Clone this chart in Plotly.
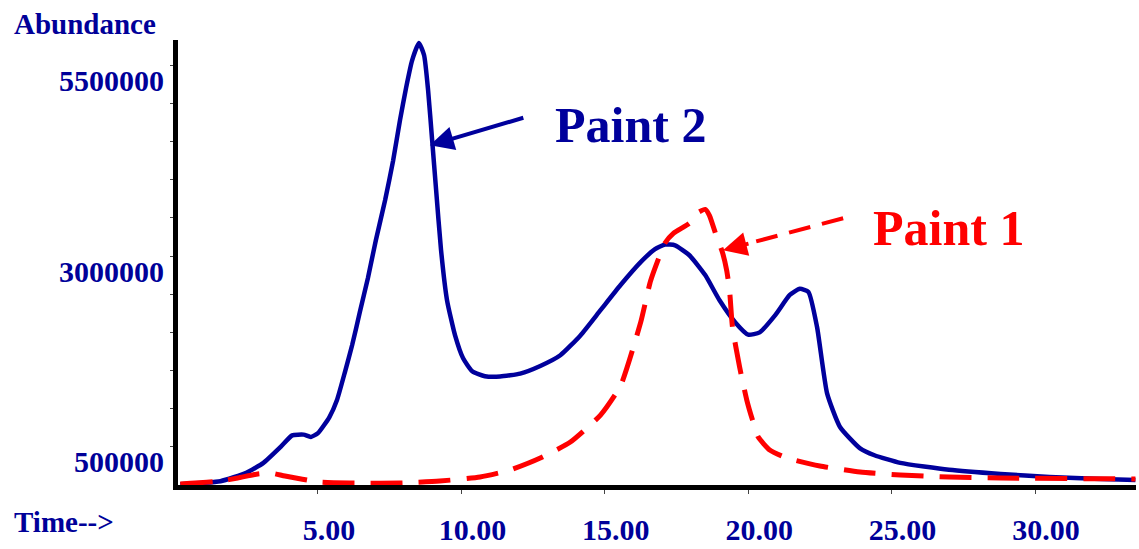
import plotly.graph_objects as go

# Retention time (min) and abundance for the two paint samples
time_paint2 = [0.2, 1.6, 2.5, 3.1, 3.7, 4.1, 4.5, 4.75, 5.0, 5.4, 5.66, 5.94, 6.19,
               6.46, 6.74, 7.02, 7.34, 7.62, 7.86, 8.07, 8.28, 8.52, 8.7, 8.84, 8.98,
               9.12, 9.29, 9.5, 9.78, 10.06, 10.38, 10.82, 11.35, 12.05, 12.75, 13.45,
               14.15, 14.85, 15.55, 16.25, 16.75, 17.1, 17.45, 17.95, 18.5, 19.0, 19.55,
               20.0, 20.4, 20.95, 21.45, 21.8, 22.1, 22.4, 22.75, 23.2, 23.9, 24.4, 25.3,
               27.0, 28.8, 30.5, 32.3, 33.5]
abund_paint2 = [10000, 50000, 160000, 290000, 500000, 650000, 660000, 630000, 680000,
                890000, 1110000, 1480000, 1830000, 2265000, 2710000, 3210000, 3730000,
                4250000, 4780000, 5200000, 5560000, 5790000, 5630000, 5170000, 4520000,
                3860000, 3080000, 2420000, 1960000, 1660000, 1490000, 1425000, 1420000,
                1460000, 1560000, 1700000, 1960000, 2290000, 2620000, 2920000, 3090000,
                3150000, 3140000, 3010000, 2750000, 2420000, 2130000, 1970000, 2000000,
                2230000, 2490000, 2570000, 2530000, 2070000, 1200000, 760000, 480000,
                390000, 290000, 200000, 145000, 105000, 80000, 65000]

time_paint1 = [0.2, 1.6, 2.2, 2.9, 3.35, 3.85, 5.05, 6.1, 7.85, 9.25, 10.65, 11.7,
               12.75, 13.8, 14.85, 15.55, 16.25, 16.6, 17.1, 17.4, 17.95, 18.25, 18.5,
               18.65, 18.9, 19.1, 19.25, 19.35, 19.45, 19.7, 19.95, 20.15, 20.35, 20.75,
               21.35, 22.5, 23.9, 25.3, 27.0, 28.8, 33.5]
abund_paint1 = [13000, 52000, 92000, 144000, 157000, 118000, 39000, 26000, 26000, 52000,
                105000, 196000, 353000, 563000, 916000, 1300000, 2130000, 2680000,
                3170000, 3300000, 3430000, 3570000, 3610000, 3530000, 3250000, 3050000,
                2810000, 2550000, 2070000, 1545000, 1113000, 851000, 628000, 458000,
                353000, 249000, 170000, 131000, 105000, 92000, 79000]

x_tick_vals = [5, 10, 15, 20, 25, 30]
x_tick_text = ["5.00", "10.00", "15.00", "20.00", "25.00", "30.00"]
y_tick_vals = [500000 * k for k in range(1, 12)]
y_tick_text = ["500000", "", "", "", "", "3000000", "", "", "", "", "5500000"]

BLUE = "#00009C"
RED = "#FF0000"
LABEL_BLUE = "#000099"
SERIF = "Liberation Serif"

fig = go.Figure()
fig.add_trace(go.Scatter(x=time_paint2, y=abund_paint2, mode="lines",
                         line=dict(color=BLUE, width=4.5, shape="spline", smoothing=0.5),
                         name="Paint 2"))
fig.add_trace(go.Scatter(x=time_paint1, y=abund_paint1, mode="lines",
                         line=dict(color=RED, width=5, dash="32px,16px",
                                   shape="spline", smoothing=0.5),
                         name="Paint 1"))

# Callout labels with arrows
fig.add_annotation(x=8.9, y=4450000, ax=95, ay=-28, text="", showarrow=True,
                   arrowhead=2, arrowsize=1.2, arrowwidth=4, arrowcolor=BLUE)
fig.add_annotation(x=15.88, y=4712000, text="Paint 2", showarrow=False,
                   font=dict(family=SERIF, size=50, color=BLUE, weight="bold"))

fig.add_shape(type="line", x0=23.31, y0=3495000, x1=20.05, y1=3168000,
              line=dict(color=RED, width=4, dash="22px,12px"))
fig.add_annotation(x=19.12, y=3076000, ax=27, ay=-7, text="", showarrow=True,
                   arrowhead=2, arrowsize=1.2, arrowwidth=4, arrowcolor=RED)
fig.add_annotation(x=26.97, y=3364000, text="Paint 1", showarrow=False,
                   font=dict(family=SERIF, size=50, color=RED, weight="bold"))

# Axis titles
fig.add_annotation(xref="paper", yref="paper", x=-0.1733, y=1.036, xanchor="left",
                   yanchor="middle", text="Abundance", showarrow=False,
                   font=dict(family=SERIF, size=29, color=LABEL_BLUE, weight="bold"))
fig.add_annotation(xref="paper", yref="paper", x=-0.1733, y=-0.083, xanchor="left",
                   yanchor="middle", text="Time-->", showarrow=False,
                   font=dict(family=SERIF, size=29, color=LABEL_BLUE, weight="bold"))

fig.update_layout(
    width=1139, height=549,
    margin=dict(l=178, r=3, t=40, b=64),
    paper_bgcolor="white", plot_bgcolor="white",
    showlegend=False,
    xaxis=dict(range=[0.12, 33.52], showgrid=False, zeroline=False, automargin=False,
               showline=True, linecolor="black", linewidth=5,
               ticks="outside", ticklen=4, tickwidth=1, tickcolor="#444",
               tickvals=x_tick_vals, ticktext=x_tick_text,
               ticklabelshift=11, ticklabelstandoff=10,
               tickfont=dict(family=SERIF, size=30, color=LABEL_BLUE, weight="bold")),
    yaxis=dict(range=[0, 5830000], showgrid=False, zeroline=False, automargin=False,
               showline=True, linecolor="black", linewidth=5,
               ticks="outside", ticklen=3, tickwidth=1, tickcolor="#444",
               tickvals=y_tick_vals, ticktext=y_tick_text,
               ticklabelshift=15, ticklabelstandoff=0,
               tickfont=dict(family=SERIF, size=30, color=LABEL_BLUE, weight="bold")),
)

fig.write_html("out.html")
